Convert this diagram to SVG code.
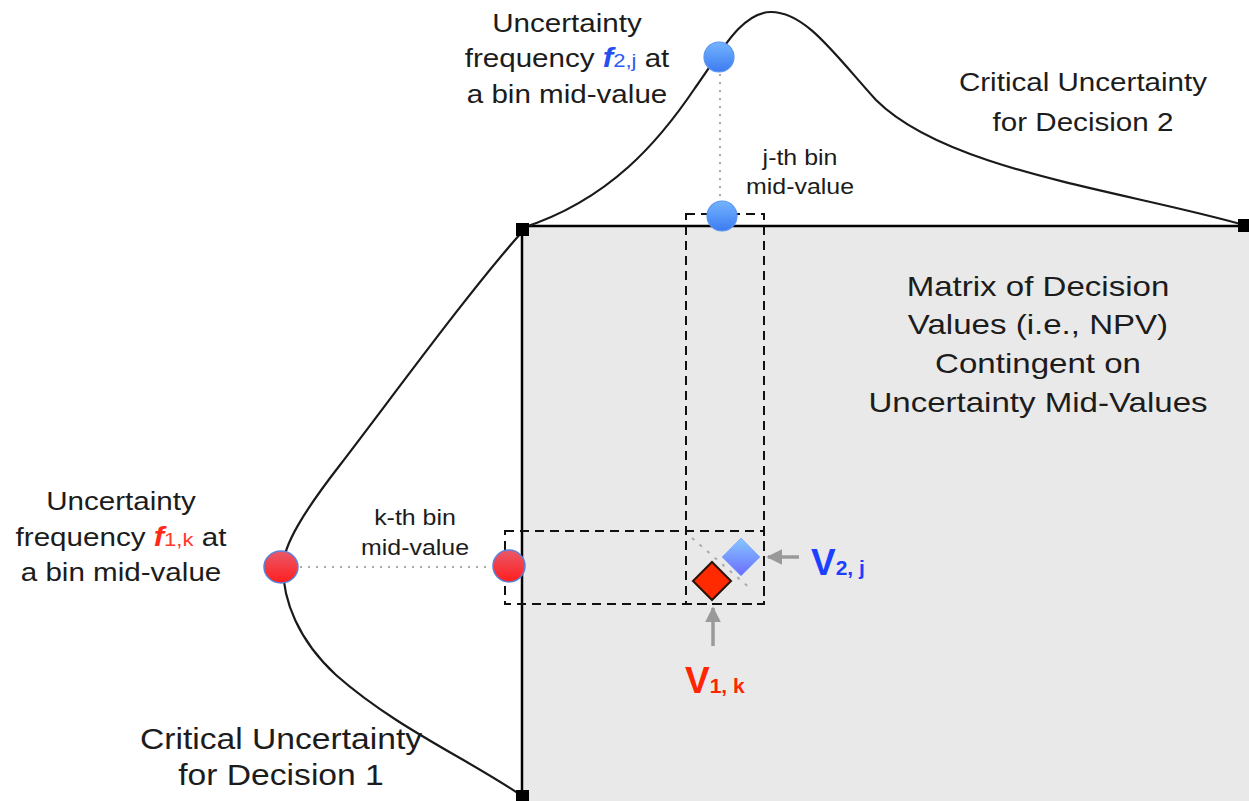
<svg xmlns="http://www.w3.org/2000/svg" width="1249" height="801" viewBox="0 0 1249 801">
<defs>
<style>
text{font-family:"Liberation Sans",Arial,Helvetica,sans-serif;fill:#1c1c1c;text-anchor:middle}
.big{font-size:25.5px}
.sm{font-size:21.5px}
.mx{font-size:28.5px}
.bl{font-size:29px}
.fb{font-weight:bold;font-style:italic;font-size:27px}
.sub{font-size:19px}
.curve{fill:none;stroke:#1a1a1a;stroke-width:2.2}
.dash{fill:none;stroke:#111;stroke-width:2;stroke-dasharray:9,6}
.dot{fill:none;stroke:#aaa;stroke-width:2;stroke-dasharray:2,6}
.arr{stroke:#9a9a9a;stroke-width:3.5;fill:none}
.corner{fill:#000}
.vl{font-weight:bold;text-anchor:start}
</style>
<linearGradient id="gBlue" x1="0" y1="0" x2="0" y2="1"><stop offset="0" stop-color="#74b4ff"/><stop offset="1" stop-color="#3c7bf0"/></linearGradient>
<linearGradient id="gRed" x1="0" y1="0" x2="0" y2="1"><stop offset="0" stop-color="#e9596a"/><stop offset="1" stop-color="#ff1e1e"/></linearGradient>
<linearGradient id="gDia" x1="0" y1="0" x2="0" y2="1"><stop offset="0" stop-color="#86c8ff"/><stop offset="1" stop-color="#6a6cff"/></linearGradient>
<marker id="ah" viewBox="0 0 10 10" refX="9" refY="5" markerWidth="4.6" markerHeight="4.6" orient="auto" markerUnits="strokeWidth"><path d="M0,0 L10,5 L0,10 Z" fill="#9a9a9a"/></marker>
</defs>

<g id="matrix">
<rect x="522" y="226" width="760" height="600" fill="#e9e9e9" stroke="#000" stroke-width="2.5"/>
<text class="mx" transform="translate(1038,0) scale(1.16,1)"><tspan x="0" y="296">Matrix of Decision</tspan><tspan x="0" y="334">Values (i.e., NPV)</tspan><tspan x="0" y="373">Contingent on</tspan><tspan x="0" y="412">Uncertainty Mid-Values</tspan></text>
</g>

<g id="dist2">
<path class="curve" d="M522,228 C610,200 660,140 695,88 C722,50 742,12 771,12 C806,12 835,55 876,100 C946,170 1120,190 1244,225"/>
<text class="big" transform="translate(1083,0) scale(1.16,1)"><tspan x="0" y="91">Critical Uncertainty</tspan><tspan x="0" y="131">for Decision 2</tspan></text>
</g>

<g id="dist1">
<path class="curve" d="M522,232 C470,290 390,400 340,465 C305,510 283,545 283,567 C283,600 298,640 336,675 C396,728 470,760 522,796"/>
<text class="bl" transform="translate(281,0) scale(1.16,1)"><tspan x="0" y="749">Critical Uncertainty</tspan><tspan x="0" y="785">for Decision 1</tspan></text>
</g>

<g id="corners">
<rect class="corner" x="516" y="223" width="13" height="13"/>
<rect class="corner" x="1238" y="219" width="13" height="13"/>
<rect class="corner" x="516" y="790" width="13" height="13"/>
</g>

<g id="connectors">
<line class="dot" x1="720" y1="74" x2="720" y2="200"/>
<line class="dot" x1="300" y1="567" x2="492" y2="567"/>
<rect class="dash" x="686" y="214" width="78" height="390"/>
<rect class="dash" x="505" y="531" width="259" height="73"/>
<line x1="692" y1="538" x2="752" y2="590" stroke="#aaa" stroke-width="2" stroke-dasharray="3,7"/>
<line class="arr" x1="799" y1="557" x2="768" y2="557" marker-end="url(#ah)"/>
<line class="arr" x1="713" y1="646" x2="713" y2="608" marker-end="url(#ah)"/>
</g>

<g id="freq2">
<circle cx="719" cy="57" r="15" fill="url(#gBlue)" stroke="#5a94f0" stroke-width="1.2"/>
<text class="big" transform="translate(567,0) scale(1.16,1)"><tspan x="0" y="32">Uncertainty</tspan><tspan x="0" y="67">frequency <tspan class="fb" style="fill:#2450f0">f</tspan><tspan class="sub" style="fill:#2f5cf0">2,j</tspan> at</tspan><tspan x="0" y="103">a bin mid-value</tspan></text>
</g>

<g id="bin2">
<circle cx="722" cy="216" r="15" fill="url(#gBlue)" stroke="#5a94f0" stroke-width="1.2"/>
<text class="sm" transform="translate(800,0) scale(1.16,1)"><tspan x="0" y="165">j-th bin</tspan><tspan x="0" y="194">mid-value</tspan></text>
</g>

<g id="freq1">
<ellipse cx="281" cy="567" rx="17" ry="16" fill="url(#gRed)" stroke="#5a80d8" stroke-width="1.5"/>
<text class="big" transform="translate(121,0) scale(1.16,1)"><tspan x="0" y="510">Uncertainty</tspan><tspan x="0" y="546">frequency <tspan class="fb" style="fill:#ff2a1a">f</tspan><tspan class="sub" style="fill:#ff3a2a">1,k</tspan> at</tspan><tspan x="0" y="581">a bin mid-value</tspan></text>
</g>

<g id="bin1">
<ellipse cx="509" cy="566" rx="16" ry="16" fill="url(#gRed)" stroke="#5a80d8" stroke-width="1.5"/>
<text class="sm" transform="translate(415,0) scale(1.16,1)"><tspan x="0" y="525">k-th bin</tspan><tspan x="0" y="555">mid-value</tspan></text>
</g>

<g id="v2">
<polygon points="741,538 760,557 741,576 722,557" fill="url(#gDia)" stroke="#8fb0ff" stroke-width="1"/>
<text class="vl" x="811" y="575" style="fill:#1d3fff"><tspan font-size="37">V</tspan><tspan font-size="21">2, j</tspan></text>
</g>

<g id="v1">
<polygon points="712,562 731,581 712,600 693,581" fill="#ff2a00" stroke="#2a1208" stroke-width="2"/>
<text class="vl" x="685" y="693" style="fill:#ff2500"><tspan font-size="37">V</tspan><tspan font-size="21">1, k</tspan></text>
</g>
</svg>
